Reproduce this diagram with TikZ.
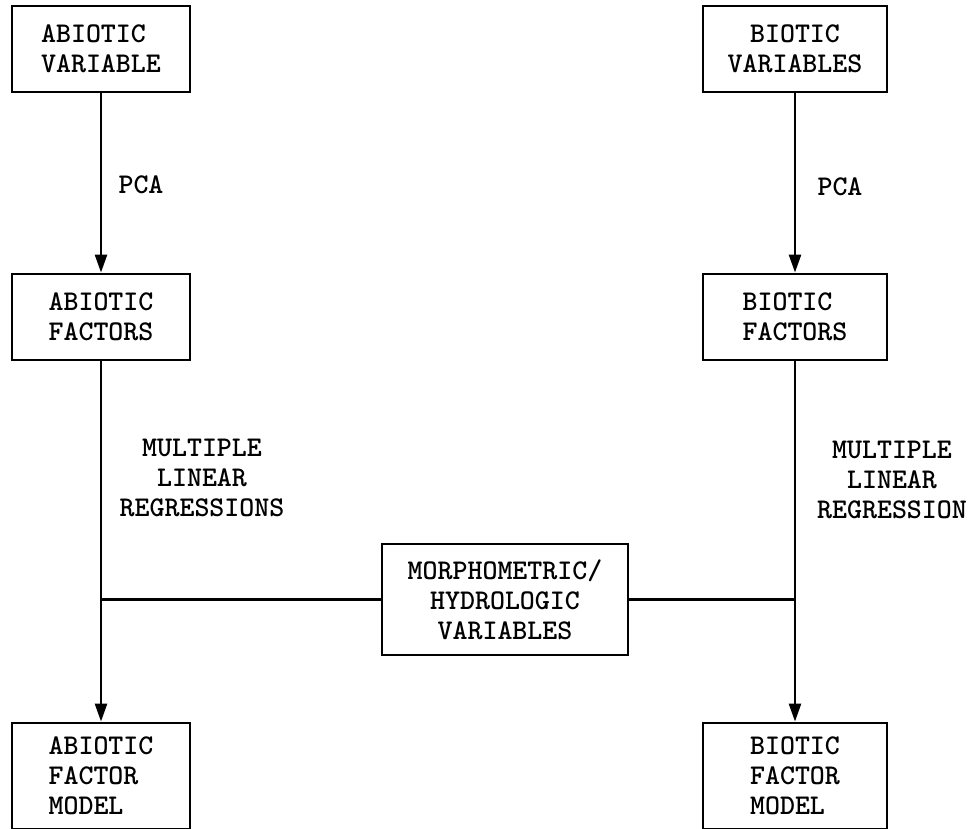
\documentclass[tikz,border=0pt]{standalone}
\usepackage{tikz}
\usetikzlibrary{positioning, arrows.meta}

\begin{document}
\begin{tikzpicture}[x=0.025cm, y=-0.025cm,
    box/.style={draw, line width=2pt, inner sep=0pt, minimum height=2.15cm,
      font=\ttfamily\bfseries\fontsize{20.3}{21.3}\selectfont},
    lbl/.style={align=center, inner sep=0pt, font=\ttfamily\bfseries\fontsize{20.3}{21.3}\selectfont},
    flow/.style={line width=1.8pt, -{Triangle[length=0.45cm, width=0.3cm]}}]
    \useasboundingbox (0,0) rectangle (976,829);

    % Boxes
    \node[box, minimum width=4.45cm, align=left] (av) at (101,49) {ABIOTIC\\VARIABLE};
    \node[box, minimum width=4.6cm, align=center] (bv) at (795,49) {BIOTIC\\VARIABLES};
    \node[box, minimum width=4.45cm, align=left] (af) at (101,317) {ABIOTIC\\FACTORS};
    \node[box, minimum width=4.6cm, align=left] (bf) at (795,317) {BIOTIC\\FACTORS};
    \node[box, minimum width=6.15cm, minimum height=2.775cm, align=center] (mh) at (505,599.5)
      {MORPHOMETRIC/\\HYDROLOGIC\\VARIABLES};
    \node[box, minimum width=4.45cm, minimum height=2.65cm, align=left] (am) at (101,776)
      {ABIOTIC\\FACTOR\\MODEL};
    \node[box, minimum width=4.6cm, minimum height=2.65cm, align=left] (bm) at (795,776)
      {BIOTIC\\FACTOR\\MODEL};

    % Labels
    \node[lbl] (pcaA) at (141,185) {PCA};
    \node[lbl] (pcaB) at (840,187) {PCA};
    \node[lbl] (mlrA) at (202,478) {MULTIPLE\\LINEAR\\REGRESSIONS};
    \node[lbl] (mlrB) at (892,480) {MULTIPLE\\LINEAR\\REGRESSION};

    % Connectors
    \draw[flow] (av) -- (af);
    \draw[flow] (bv) -- (bf);
    \draw[flow] (af) -- (am);
    \draw[flow] (bf) -- (bm);
    \draw[line width=1.8pt] (mh.west) -- (mh.west -| af.south);
    \draw[line width=1.8pt] (mh.east) -- (mh.east -| bf.south);
\end{tikzpicture}
\end{document}
